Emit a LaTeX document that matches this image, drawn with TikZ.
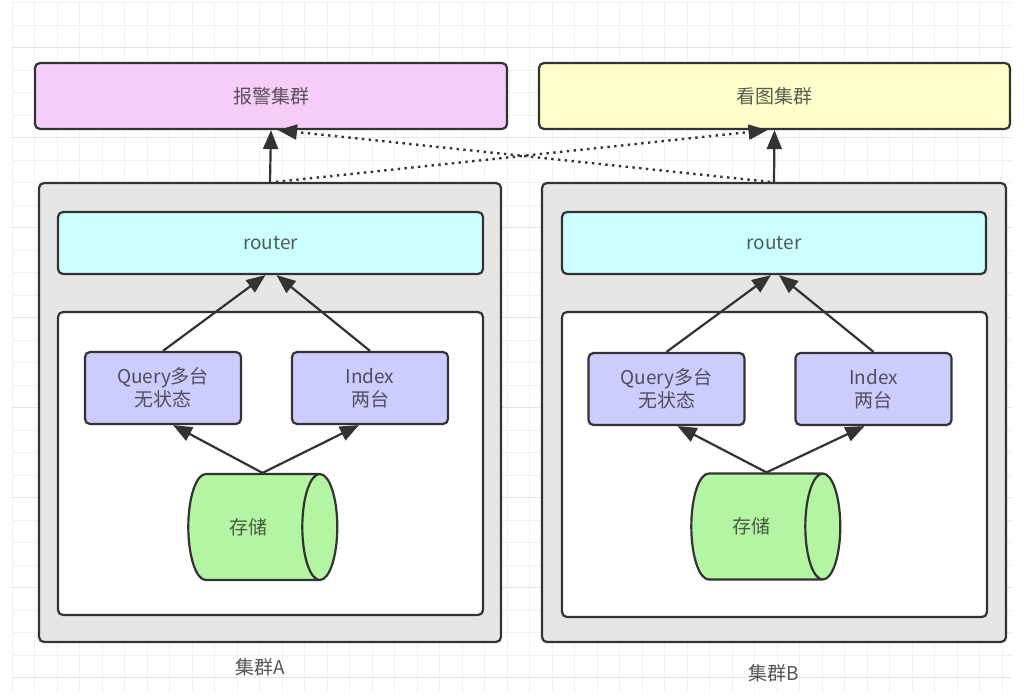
\documentclass[tikz,border=0pt]{standalone}
\usepackage{fontspec}
\setmainfont{Noto Sans CJK SC}
\usetikzlibrary{shapes.geometric,arrows.meta,calc}
\definecolor{pinkf}{HTML}{F5CDF8}
\definecolor{yelf}{HTML}{FFFFCC}
\definecolor{grayf}{HTML}{E6E6E6}
\definecolor{cyanf}{HTML}{CCFFFF}
\definecolor{bluef}{HTML}{CCCCFF}
\definecolor{greenf}{HTML}{B3F5A3}
\definecolor{edgec}{HTML}{333333}
\definecolor{gridc}{HTML}{F1F1F1}
\definecolor{gridm}{HTML}{E4E4E4}
\definecolor{lblc}{HTML}{555555}
\tikzset{
  box/.style={draw=edgec, line width=2.2pt, rounded corners=5pt, inner sep=0pt,
    font=\fontsize{19}{23}\selectfont, text=black!85, text opacity=0.75, align=center},
  cyl/.style={cylinder, draw=edgec, line width=2.2pt, fill=greenf, shape aspect=2,
    minimum width=106pt, minimum height=149pt, inner sep=0pt,
    font=\fontsize{19}{23}\selectfont, text=black!85, text opacity=0.75},
  lbl/.style={font=\fontsize{19}{23}\selectfont, text=lblc, inner sep=0pt},
  arr/.style={draw=edgec, line width=2.2pt, -{Triangle[length=19pt,width=15pt]}},
  dotarr/.style={draw=edgec, line width=2.4pt, dash pattern=on 2.4pt off 4.4pt,
    -{Triangle[length=19pt,width=15pt]}},
}
\begin{document}
\begin{tikzpicture}[x=1pt,y=-1pt]
\useasboundingbox (0,0) rectangle (1024,695);
\fill[white] (0,0) rectangle (1024,695);
% grid
\foreach \i in {0,...,44} \draw[gridc, line width=0.8pt] ({12+22.5*\i},3) -- ({12+22.5*\i},692);
\foreach \j in {0,...,30} \draw[gridc, line width=0.8pt] (12,{2.5+22.5*\j}) -- (1012,{2.5+22.5*\j});
\foreach \j in {0,...,7} \draw[gridm, line width=0.8pt] (12,{47.5+90*\j}) -- (1012,{47.5+90*\j});

% top boxes
\node[box, fill=pinkf, minimum width=472pt, minimum height=66pt] (alarm) at (271,96) {报警集群};
\node[box, fill=yelf, minimum width=471pt, minimum height=66pt] (view) at (774.5,96) {看图集群};

% cluster A
\node[box, fill=grayf, minimum width=462pt, minimum height=459pt] (clA) at (270,412.5) {};
\node[box, fill=cyanf, minimum width=425pt, minimum height=62pt] (routerA) at (270.5,243) {router};
\node[box, fill=white, minimum width=425pt, minimum height=303pt] (innerA) at (270.5,463.5) {};
\node[box, fill=bluef, minimum width=156pt, minimum height=72pt] (qA) at (163,388) {Query多台\\无状态};
\node[box, fill=bluef, minimum width=156pt, minimum height=72pt] (iA) at (370,388) {Index\\两台};
\node[cyl] (sA) at (253.5,527) {\kern-10pt 存储};
\coordinate (sAtop) at ($(sA.north)+(9,0)$);
\node[lbl] (labA) at (260,667) {集群A};

% cluster B
\node[box, fill=grayf, minimum width=464pt, minimum height=459pt] (clB) at (774,412.5) {};
\node[box, fill=cyanf, minimum width=424pt, minimum height=62pt] (routerB) at (774,243) {router};
\node[box, fill=white, minimum width=425pt, minimum height=305pt] (innerB) at (774.5,464.5) {};
\node[box, fill=bluef, minimum width=156pt, minimum height=72pt] (qB) at (666.5,389) {Query多台\\无状态};
\node[box, fill=bluef, minimum width=156pt, minimum height=72pt] (iB) at (873.5,389) {Index\\两台};
\node[cyl] (sB) at (756.5,526.5) {\kern-10pt 存储};
\coordinate (sBtop) at ($(sB.north)+(10,0)$);
\node[lbl] (labB) at (774,673) {集群B};

% inner connectors A
\draw[arr] (qA.north) -- ($(routerA.south)+(-5,0)$);
\draw[arr] (iA.north) -- ($(routerA.south)+(6,0)$);
\draw[arr] (sAtop) -- ($(qA.south)+(10,0)$);
\draw[arr] (sAtop) -- ($(iA.south)+(-11,0)$);
% inner connectors B
\draw[arr] (qB.north) -- ($(routerB.south)+(-3,0)$);
\draw[arr] (iB.north) -- ($(routerB.south)+(5,0)$);
\draw[arr] (sBtop) -- ($(qB.south)+(11,0)$);
\draw[arr] (sBtop) -- ($(iB.south)+(-9,0)$);

% top connectors
\draw[arr] (clA.north) -- (alarm.south);
\draw[arr] (clB.north) -- (view.south);
\draw[dotarr] ($(clA.north)+(6,0)$) -- ($(view.south)+(-7,0)$);
\draw[dotarr] ($(clB.north)+(-4,0)$) -- ($(alarm.south)+(7,0)$);
\end{tikzpicture}
\end{document}
